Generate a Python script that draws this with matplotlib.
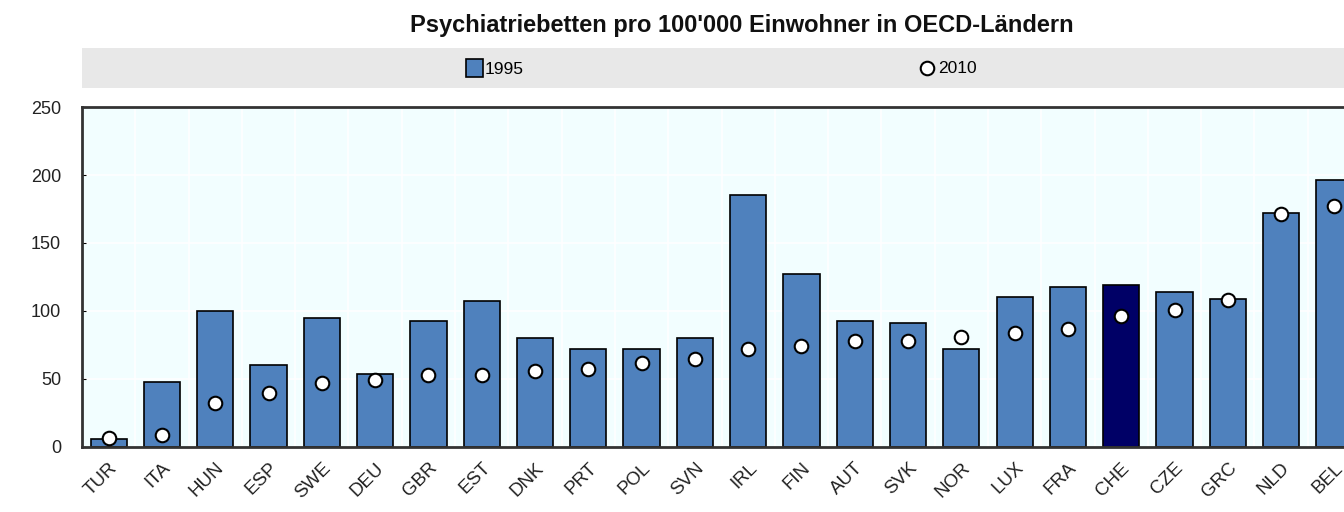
import matplotlib.pyplot as plt
from matplotlib.patches import Rectangle
import numpy as np

plt.rcParams['font.family'] = ['Liberation Sans', 'DejaVu Sans']

countries = ['TUR', 'ITA', 'HUN', 'ESP', 'SWE', 'DEU', 'GBR', 'EST', 'DNK', 'PRT',
             'POL', 'SVN', 'IRL', 'FIN', 'AUT', 'SVK', 'NOR', 'LUX', 'FRA', 'CHE',
             'CZE', 'GRC', 'NLD', 'BEL']
beds_1995 = [6, 48, 100, 60, 95, 54, 93, 107, 80, 72,
             72, 80, 185, 127, 93, 91, 72, 110, 118, 119,
             114, 109, 172, 196]
beds_2010 = [6.5, 9, 32, 40, 47, 49, 53, 53, 56, 57,
             62, 65, 72, 74, 78, 78, 81, 84, 87, 96,
             101, 108, 171, 177]
highlight = 'CHE'

fig = plt.figure(figsize=(13.44, 5.12), dpi=100)
ax = fig.add_axes([0.061, 0.127, 0.939, 0.664])

x = np.arange(len(countries))
colors = ['#000066' if c == highlight else '#4F81BD' for c in countries]
bars = ax.bar(x, beds_1995, width=0.68, color=colors, edgecolor='black', linewidth=1.2, zorder=2)
dots = ax.scatter(x, beds_2010, s=95, facecolor='white', edgecolor='black', linewidth=1.5, zorder=3)

ax.set_facecolor('#F2FEFF')
ax.set_xlim(-0.5, 23.18)
ax.set_ylim(0, 250)
ax.set_yticks([0, 50, 100, 150, 200, 250])
ax.set_xticks(x)
ax.set_xticklabels(countries, rotation=45, ha='right', rotation_mode='anchor', fontsize=13.5, color='#222222')
ax.tick_params(axis='y', direction='in', length=3, labelsize=13, labelcolor='#222222', pad=15)
ax.tick_params(axis='x', length=0, pad=9)

# faint white grid between categories
for b in np.arange(-0.5, len(countries), 1.0):
    ax.axvline(b, color='white', lw=1.2, zorder=1)
for yv in [50, 100, 150, 200]:
    ax.axhline(yv, color='white', lw=1.2, zorder=1)

for side in ['left', 'bottom', 'top']:
    ax.spines[side].set_color('#333333')
    ax.spines[side].set_linewidth(2)
ax.spines['right'].set_visible(False)

fig.text(0.552, 0.951, "Psychiatriebetten pro 100'000 Einwohner in OECD-Ländern",
         ha='center', va='center', fontsize=17, fontweight='bold', color='#111111')

# legend band
fig.patches.append(Rectangle((0.061, 0.828), 0.939, 0.078, transform=fig.transFigure,
                             facecolor='#E8E8E8', edgecolor='none', zorder=0))
leg1 = fig.legend([bars], ['1995'], loc='center', bbox_to_anchor=(0.368, 0.867),
                  frameon=False, fontsize=12.5, handlelength=1.0, handleheight=1.2, handletextpad=0.1)
fig.legend([dots], ['2010'], loc='center', bbox_to_anchor=(0.705, 0.867),
           frameon=False, fontsize=12.5, handlelength=1.0, handletextpad=0.1, scatterpoints=1)

fig.savefig('out.png', dpi=100)
